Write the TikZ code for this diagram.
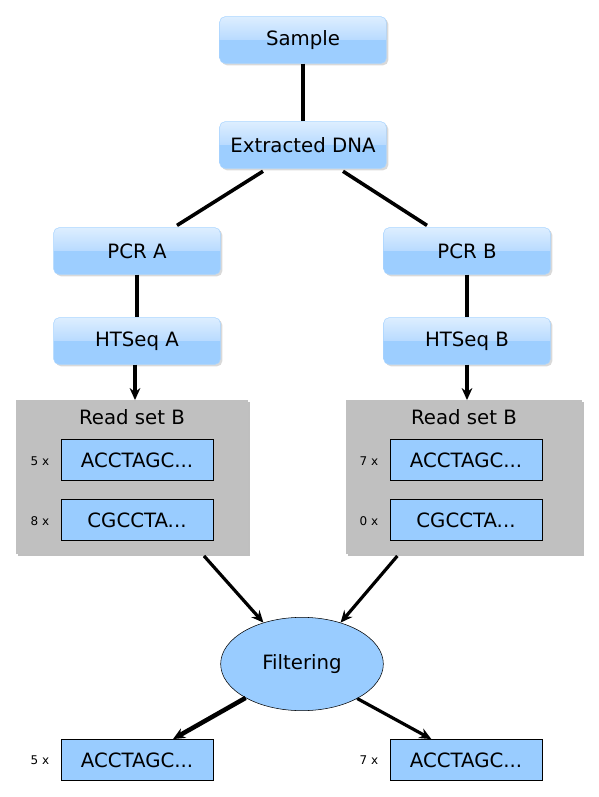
\documentclass[tikz,border=0pt]{standalone}
\usepackage{fontspec}
\setmainfont{DejaVu Sans}
\usetikzlibrary{shapes.geometric,shadows,arrows.meta}
\definecolor{boxtop}{HTML}{DDEEFF}
\definecolor{boxmid}{HTML}{B9DBFF}
\definecolor{boxbot}{HTML}{9DCEFF}
\definecolor{boxrim}{HTML}{A8D4FF}
\definecolor{seqfill}{HTML}{99CCFF}
\definecolor{setfill}{HTML}{C0C0C0}
\newcommand{\seqdots}{.{}.{}.}
\pgfdeclareverticalshading{gloss}{100bp}{color(0bp)=(boxbot); color(50bp)=(boxbot); color(50.5bp)=(boxmid); color(75bp)=(boxtop); color(100bp)=(boxtop)}

\tikzstyle{stage}=[rounded corners=4pt,draw=boxrim,shading=gloss,minimum width=125pt,minimum height=35pt,font=\fontsize{14.8}{16}\selectfont,drop shadow={shadow xshift=1.5pt,shadow yshift=-1.5pt,opacity=0.3}]
\tikzstyle{readset}=[fill=setfill,minimum height=115pt,drop shadow={shadow xshift=1.5pt,shadow yshift=-1.5pt,opacity=0.5}]
\tikzstyle{title}=[font=\fontsize{14.8}{16}\selectfont]
\tikzstyle{seq}=[draw,thin,fill=seqfill,minimum width=114pt,minimum height=31pt,font=\fontsize{14.8}{16}\selectfont]
\tikzstyle{count}=[font=\fontsize{9}{10}\selectfont]
\tikzstyle{filter}=[ellipse,draw,thin,fill=seqfill,minimum width=122pt,minimum height=70pt,font=\fontsize{14.8}{16}\selectfont]
\tikzstyle{link}=[draw,line width=2.7pt]
\tikzstyle{flow}=[draw,line width=2.4pt,-{Stealth[length=9pt,width=8pt]}]

\begin{document}
\begin{tikzpicture}[x=0.75pt,y=-0.75pt]
    \useasboundingbox (0,0) rectangle (599,797);
    % First the processing stages
    \foreach \pos/\name/\txt in {{(303,40)/sample/Sample}, {(303,145)/dna/Extracted DNA}, {(137,251)/pcra/PCR A}, {(467,251)/pcrb/PCR B}, {(137,341)/htsa/HTSeq A}, {(467,341)/htsb/HTSeq B}}
        \node[stage] (\name) at \pos {\txt};
    % Read sets with their sequences
    \node[readset,minimum width=174pt] (seta) at (132,477) {};
    \node[readset,minimum width=177pt] (setb) at (464,477) {};
    \node[title] (titlea) at (132,417) {Read set B};
    \node[title] (titleb) at (464,417) {Read set B};
    \foreach \pos/\name/\txt in {{(137,460)/seqa1/ACCTAGC}, {(137,520)/seqa2/CGCCTA}, {(466,460)/seqb1/ACCTAGC}, {(466,520)/seqb2/CGCCTA}, {(137,760)/outa/ACCTAGC}, {(466,760)/outb/ACCTAGC}}
        \node[seq] (\name) at \pos {\txt\seqdots};
    \foreach \pos/\name/\txt in {{(40,461)/cnta1/5 x}, {(40,521)/cnta2/8 x}, {(369,461)/cntb1/7 x}, {(369,521)/cntb2/0 x}, {(40,760)/cntouta/5 x}, {(369,760)/cntoutb/7 x}}
        \node[count] (\name) at \pos {\txt};
    \node[filter] (filt) at (302,664) {Filtering};
    % Connect the stages
    \path[link] (sample) -- (dna);
    \path[link] ([xshift=-30pt,yshift=-2pt]dna.south) -- ([xshift=30pt,yshift=1.5pt]pcra.north);
    \path[link] ([xshift=30pt,yshift=-2pt]dna.south) -- ([xshift=-30pt,yshift=1.5pt]pcrb.north);
    \path[link] (pcra) -- (htsa);
    \path[link] (pcrb) -- (htsb);
    \path[flow] ([xshift=-1.5pt]htsa.south) -- ([xshift=-1.5pt]htsa.south |- seta.north);
    \path[flow] (htsb.south) -- (htsb.south |- setb.north);
    \path[flow] ([xshift=54pt,yshift=-1.5pt]seta.south) -- (filt.133);
    \path[flow] ([xshift=-50pt,yshift=-1.5pt]setb.south) -- (filt.47);
    \path[flow,line width=3.4pt] (filt.211) -- ([xshift=27pt]outa.north);
    \path[flow] (filt.328) -- ([xshift=-26pt]outb.north);
\end{tikzpicture}
\end{document}
